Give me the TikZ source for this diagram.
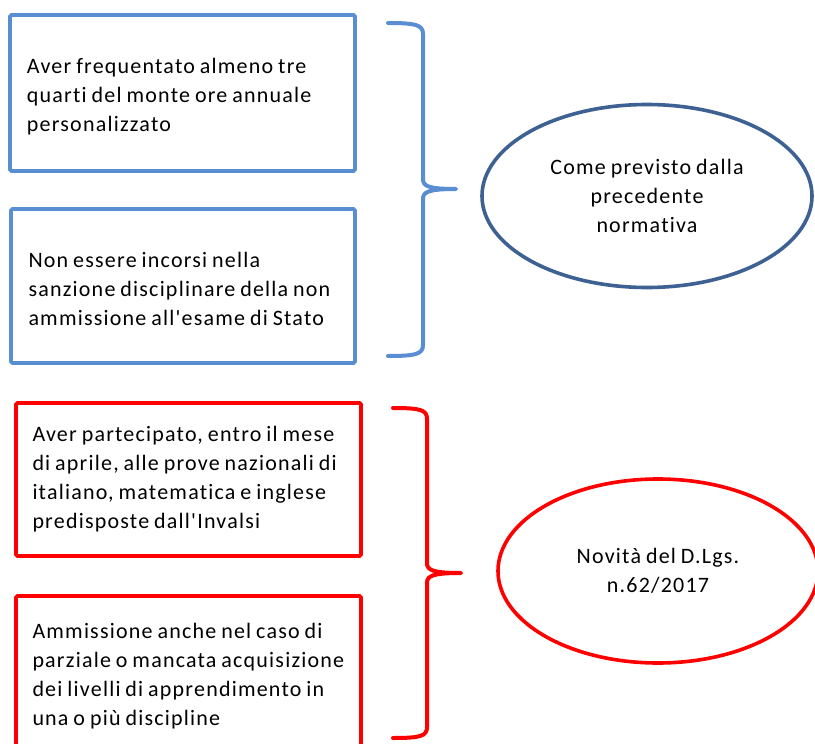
\documentclass[tikz,border=0pt]{standalone}
\usepackage{fontspec}
\setmainfont{Carlito}[Ligatures={TeXOff,NoCommon}, WordSpace=0.8, LetterSpace=5.5]
\usetikzlibrary{shapes.geometric}
\definecolor{boxblue}{RGB}{90,142,210}
\definecolor{ellblue}{RGB}{61,97,146}
\definecolor{myred}{RGB}{255,0,0}
\tikzset{
  boxframe/.style={draw, line width=3.6pt, rounded corners=1.5pt, inner sep=0pt},
  txtbox/.style={boxframe, align=flush left,
    inner xsep=16.5pt, inner ysep=0pt, text width=#1,
    font=\fontsize{22}{29}\selectfont},
  plaintext/.style={align=flush left, inner sep=0pt, text width=312pt,
    font=\fontsize{22}{29}\selectfont},
  bluebox/.style={boxframe, draw=boxblue},
  redbox/.style={txtbox=312pt, draw=myred},
  ovalnode/.style={ellipse, draw, line width=3.6pt, align=center, inner sep=0pt,
    font=\fontsize{22}{29}\selectfont},
  bracepath/.style={line width=4pt, line cap=round, line join=round}
}
\begin{document}
\begin{tikzpicture}[x=1pt,y=-1pt]
\useasboundingbox (0,0) rectangle (815,744);
% blue group
\node[bluebox, minimum width=345pt, minimum height=156pt] (b1) at (182.5,93) {};
\node[plaintext] (t1) at ([xshift=0.5pt,yshift=-4pt]b1.center)
  {Aver frequentato almeno tre\\quarti del monte ore annuale\\personalizzato};
\node[bluebox, minimum width=344pt, minimum height=154pt] (b2) at (183,286) {};
\node[plaintext] (t2) at ([xshift=1.5pt,yshift=-3pt]b2.center)
  {Non essere incorsi nella\\sanzione disciplinare della non\\ammissione all'esame di Stato};
\node[ovalnode, draw=ellblue, minimum width=330pt, minimum height=183pt] (e1) at (647,196)
  {Come previsto dalla\\precedente\\normativa};
\coordinate (bt) at (388,23);
\coordinate (bm) at (456,189);
\coordinate (bb) at (388,356);
\draw[bracepath, boxblue] (bt) .. controls (416,23) and (423,25) .. (423,34)
  -- (423,179) .. controls (423,186) and (428,189) .. (bm)
  .. controls (428,189) and (423,192) .. (423,199)
  -- (423,345) .. controls (423,354) and (416,356) .. (bb);
% red group
\node[redbox, minimum width=345pt, minimum height=153pt] (r1) at (188.5,479.5)
  {Aver partecipato, entro il mese\\di aprile, alle prove nazionali di\\italiano, matematica e inglese\\predisposte dall'Invalsi};
\node[redbox, minimum width=345pt, minimum height=160pt] (r2) at (188.5,676)
  {Ammissione anche nel caso di\\parziale o mancata acquisizione\\dei livelli di apprendimento in\\una o più discipline};
\node[ovalnode, draw=myred, minimum width=320pt, minimum height=184pt] (e2) at (658,571)
  {Novità del D.Lgs.\\n.62/2017};
\coordinate (rt) at (393,408);
\coordinate (rm) at (461,573);
\coordinate (rb) at (393,738);
\draw[bracepath, myred] (rt) .. controls (421,408) and (427,410) .. (427,419)
  -- (427,563) .. controls (427,570) and (432,573) .. (rm)
  .. controls (432,573) and (427,576) .. (427,583)
  -- (427,727) .. controls (427,736) and (421,738) .. (rb);
\end{tikzpicture}
\end{document}
